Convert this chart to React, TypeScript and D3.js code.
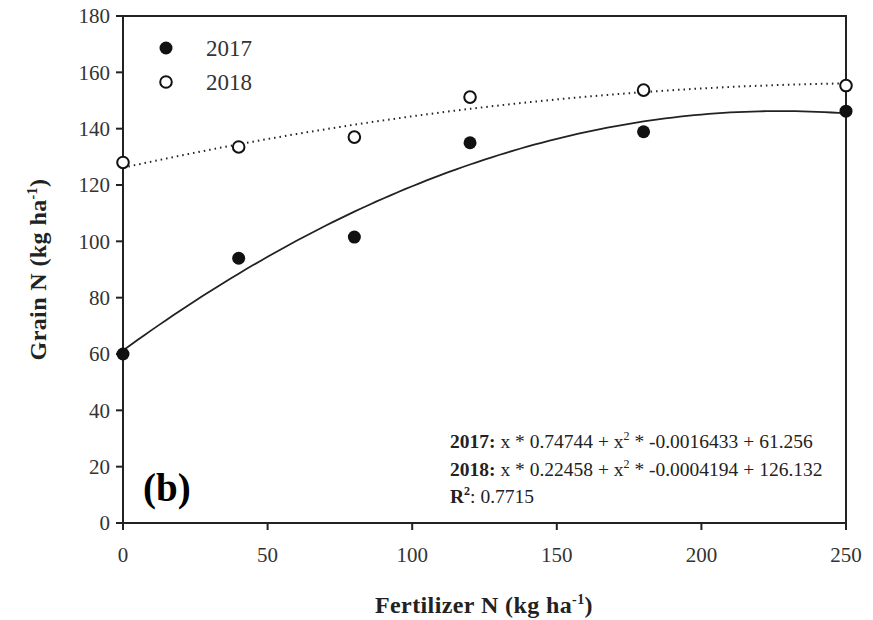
import React from "react";
import * as d3 from "d3";

const fertilizer = [0, 40, 80, 120, 180, 250];
const grain2017 = [60, 94, 101.5, 135, 138.9, 146.2];
const grain2018 = [128, 133.5, 137, 151.2, 153.7, 155.3];
// fit coefficients printed on the chart: [linear, quadratic, intercept]
const fit2017 = [0.74744, -0.0016433, 61.256];
const fit2018 = [0.22458, -0.0004194, 126.132];
const xTicks = [0, 50, 100, 150, 200, 250];
const yTicks = [0, 20, 40, 60, 80, 100, 120, 140, 160, 180];
const years = ["2017", "2018"];

const W = 873;
const H = 620;
const font = "'Liberation Serif', 'DejaVu Serif', serif";
const ink = "#222";

export default function App() {
  const x = d3.scaleLinear().domain([0, 250]).range([123, 846]);
  const y = d3.scaleLinear().domain([0, 180]).range([523, 16]);

  const fitPath = (c: number[]) => {
    const xs = d3.range(0, 250.01, 2.5);
    return d3
      .line<number>()
      .x((d) => x(d))
      .y((d) => y(d * c[0] + d * d * c[1] + c[2]))(xs) as string;
  };

  return (
    <svg width={W} height={H} style={{ position: "absolute", left: 0, top: 0, background: "#fff" }}>
      {/* frame */}
      <rect x={x(0)} y={y(180)} width={x(250) - x(0)} height={y(0) - y(180)} fill="none" stroke={ink} strokeWidth={2} />

      {/* y axis */}
      {yTicks.map((t) => (
        <g key={"y" + t}>
          <line x1={x(0) - 7} x2={x(0)} y1={y(t)} y2={y(t)} stroke={ink} strokeWidth={2} />
          <text x={x(0) - 13} y={y(t)} dy="0.35em" textAnchor="end" fontFamily={font} fontSize={21} fill="#333">
            {t}
          </text>
        </g>
      ))}

      {/* x axis */}
      {xTicks.map((t) => (
        <g key={"x" + t}>
          <line x1={x(t)} x2={x(t)} y1={y(0)} y2={y(0) + 7} stroke={ink} strokeWidth={2} />
          <text x={x(t)} y={y(0) + 39} textAnchor="middle" fontFamily={font} fontSize={21} fill="#333">
            {t}
          </text>
        </g>
      ))}

      {/* axis titles */}
      <text x={484} y={613} textAnchor="middle" fontFamily={font} fontSize={24} fontWeight="bold" fill={ink} letterSpacing={0.4}>
        Fertilizer N (kg ha
        <tspan dy={-9} fontSize={14}>-1</tspan>
        <tspan dy={9}>)</tspan>
      </text>
      <text
        transform={`translate(46, ${y(90)}) rotate(-90)`}
        textAnchor="middle"
        fontFamily={font}
        fontSize={24}
        fontWeight="bold"
        fill={ink}
        letterSpacing={0.4}
      >
        Grain N (kg ha
        <tspan dy={-9} fontSize={14}>-1</tspan>
        <tspan dy={9}>)</tspan>
      </text>

      {/* fitted curves */}
      <path d={fitPath(fit2018)} fill="none" stroke={ink} strokeWidth={2} strokeDasharray="1.5,4" />
      <path d={fitPath(fit2017)} fill="none" stroke={ink} strokeWidth={1.8} />

      {/* points */}
      {fertilizer.map((f, i) => (
        <circle key={"a" + i} cx={x(f)} cy={y(grain2017[i])} r={6.5} fill="#111" />
      ))}
      {fertilizer.map((f, i) => (
        <circle key={"b" + i} cx={x(f)} cy={y(grain2018[i])} r={5.8} fill="#fff" stroke="#111" strokeWidth={2} />
      ))}

      {/* legend */}
      {years.map((yr, i) => (
        <g key={yr}>
          <circle
            cx={166}
            cy={48 + i * 34}
            r={i === 0 ? 6.5 : 5.8}
            fill={i === 0 ? "#111" : "#fff"}
            stroke="#111"
            strokeWidth={i === 0 ? 0 : 2}
          />
          <text x={206} y={48 + i * 34} dy="0.35em" fontFamily={font} fontSize={23} fill="#333">
            {yr}
          </text>
        </g>
      ))}

      {/* equations */}
      <g fontFamily={font} fontSize={19.5} fill={ink}>
        <text x={450} y={448}>
          <tspan fontWeight="bold">2017:</tspan> x * {fit2017[0]} + x<tspan dy={-8} fontSize={12}>2</tspan>
          <tspan dy={8}> * {fit2017[1]} + {fit2017[2]}</tspan>
        </text>
        <text x={450} y={476}>
          <tspan fontWeight="bold">2018:</tspan> x * {fit2018[0]} + x<tspan dy={-8} fontSize={12}>2</tspan>
          <tspan dy={8}> * {fit2018[1]} + {fit2018[2]}</tspan>
        </text>
        <text x={450} y={503}>
          <tspan fontWeight="bold">R</tspan>
          <tspan dy={-8} fontSize={12} fontWeight="bold">2</tspan>
          <tspan dy={8}>: 0.7715</tspan>
        </text>
      </g>

      <text x={143} y={501} fontFamily={font} fontSize={39} fontWeight="bold" fill="#000">
        (b)
      </text>
    </svg>
  );
}
